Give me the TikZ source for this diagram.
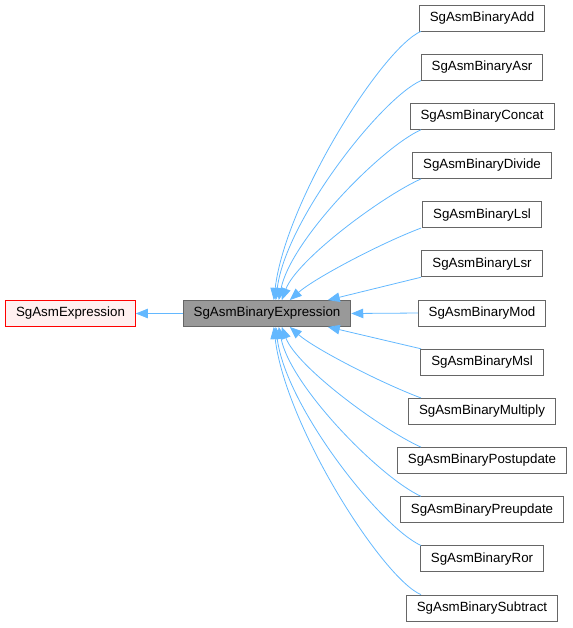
\documentclass[tikz,border=0pt]{standalone}
\usepackage{fontspec}
\setmainfont{Liberation Sans}
\usetikzlibrary{arrows.meta}
\definecolor{edgeblue}{HTML}{63B8FF}
\definecolor{boxgray}{HTML}{666666}
\definecolor{midgray}{HTML}{999999}
\definecolor{pinkfill}{HTML}{FFF0F0}
\definecolor{redline}{HTML}{FF0000}
\begin{document}
\begin{tikzpicture}[x=1pt,y=-1pt,
  box/.style={draw=boxgray, line width=0.8pt, fill=white, minimum height=26pt,
    inner xsep=10.5pt, inner ysep=0pt, font=\fontsize{13.33}{16}\selectfont},
  basebox/.style={box, draw=redline, fill=pinkfill},
  mainbox/.style={box, fill=midgray},
  edge/.style={draw=edgeblue, line width=0.8pt, -{Triangle[length=12pt,width=9.5pt]}}]
\useasboundingbox (0,0) rectangle (572,628);

\node[basebox] (base) at (70.5,313.5) {SgAsmExpression};
\node[mainbox] (be) at (267,313.5) {SgAsmBinaryExpression};

\node[box] (add)  at (482,18)     {SgAsmBinaryAdd};
\node[box] (asr)  at (482,67.17)  {SgAsmBinaryAsr};
\node[box] (cat)  at (482,116.34) {SgAsmBinaryConcat};
\node[box] (div)  at (482,165.51) {SgAsmBinaryDivide};
\node[box] (lsl)  at (482,214.68) {SgAsmBinaryLsl};
\node[box] (lsr)  at (482,263.85) {SgAsmBinaryLsr};
\node[box] (mod)  at (482,313.02) {SgAsmBinaryMod};
\node[box] (msl)  at (482,362.19) {SgAsmBinaryMsl};
\node[box] (mul)  at (482,411.36) {SgAsmBinaryMultiply};
\node[box] (post) at (482,460.53) {SgAsmBinaryPostupdate};
\node[box] (pre)  at (482,509.7)  {SgAsmBinaryPreupdate};
\node[box] (ror)  at (482,558.87) {SgAsmBinaryRor};
\node[box] (sub)  at (482,608.04) {SgAsmBinarySubtract};

\coordinate (xl) at (421,0);

\draw[edge] (be.west) -- (base.east);

% upper edges
\draw[edge] (add.south west -| xl) .. controls +(-38,16) and +(12,-100) .. ([xshift=91pt]be.north west);
\draw[edge] (asr.south west -| xl) .. controls +(-40,18) and +(10,-80) .. ([xshift=93pt]be.north west);
\draw[edge] (cat.south west -| xl) .. controls +(-40,18) and +(12,-60) .. ([xshift=96pt]be.north west);
\draw[edge] (div.south west -| xl) .. controls +(-40,18) and +(15,-40) .. ([xshift=99pt]be.north west);
\draw[edge] (lsl.south west -| xl) .. controls +(-40,15) and +(25,-22) .. ([xshift=107pt]be.north west);
\draw[edge] (lsr.south west -| xl) -- ([xshift=145pt]be.north west);
\draw[edge] (mod.west) -- (be.east);
% lower edges
\draw[edge] (msl.north west -| xl) -- ([xshift=145pt]be.south west);
\draw[edge] (mul.north west -| xl) .. controls +(-40,-15) and +(25,22) .. ([xshift=107pt]be.south west);
\draw[edge] (post.north west -| xl) .. controls +(-40,-18) and +(15,40) .. ([xshift=99pt]be.south west);
\draw[edge] (pre.north west -| xl) .. controls +(-40,-18) and +(12,60) .. ([xshift=96pt]be.south west);
\draw[edge] (ror.north west -| xl) .. controls +(-40,-18) and +(10,80) .. ([xshift=93pt]be.south west);
\draw[edge] (sub.north west -| xl) .. controls +(-38,-16) and +(12,100) .. ([xshift=91pt]be.south west);
\end{tikzpicture}
\end{document}
